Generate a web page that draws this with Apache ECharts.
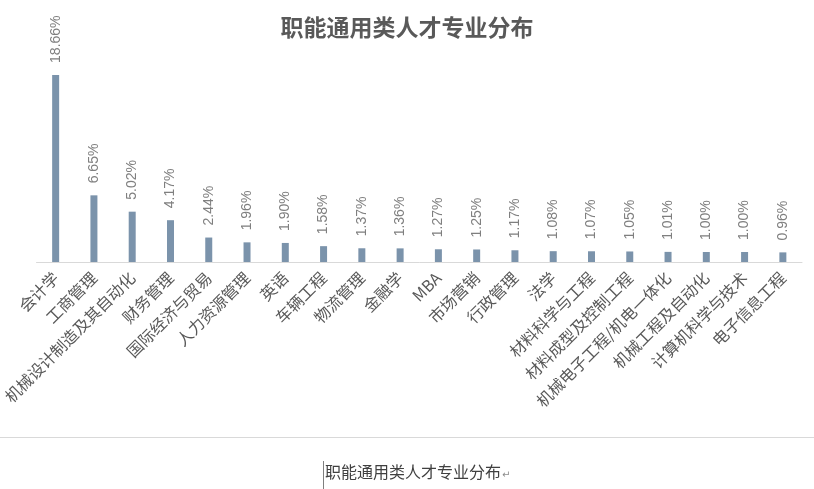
<!DOCTYPE html>
<html>
<head>
<meta charset="utf-8">
<script src="https://cdn.jsdelivr.net/npm/echarts@6/dist/echarts.min.js"></script>
<style>html,body{margin:0;padding:0;background:#fff}#c{width:814px;height:489px}</style>
</head>
<body>
<div id="c"></div>
<script>
const titleText = '职能通用类人才专业分布';
const categories = ['会计学','工商管理','机械设计制造及其自动化','财务管理','国际经济与贸易','人力资源管理','英语','车辆工程','物流管理','金融学','MBA','市场营销','行政管理','法学','材料科学与工程','材料成型及控制工程','机械电子工程/机电一体化','机械工程及自动化','计算机科学与技术','电子信息工程'];
const values = [18.66,6.65,5.02,4.17,2.44,1.96,1.90,1.58,1.37,1.36,1.27,1.25,1.17,1.08,1.07,1.05,1.01,1.00,1.00,0.96];

const chart = echarts.init(document.getElementById('c'));
chart.setOption({
  animation: false,
  title: {
    text: titleText, left: 'center', top: 11,
    textStyle: {fontFamily: 'Noto Sans CJK SC', fontSize: 23, fontWeight: 'bold', color: '#595959'}
  },
  grid: {left: 35, right: 12, top: 61.5, bottom: 227},
  xAxis: {
    type: 'category', data: categories,
    axisLine: {lineStyle: {color: '#d9d9d9'}},
    axisTick: {show: false},
    axisLabel: {rotate: 45, interval: 0, margin: 13, fontSize: 16, color: '#595959', fontFamily: 'Noto Sans CJK SC'}
  },
  yAxis: {type: 'value', min: 0, max: 20, show: false, splitLine: {show: false}},
  series: [{
    type: 'bar', data: values, barWidth: 7,
    itemStyle: {color: '#7b93ab'},
    label: {
      show: true, position: 'top', rotate: 90, align: 'left', verticalAlign: 'middle', distance: 12,
      fontSize: 14, color: '#7f7f7f', fontFamily: 'Liberation Sans',
      formatter: p => p.value.toFixed(2) + '%'
    }
  }],
  graphic: [
    {type: 'line', shape: {x1: 0, y1: 437.5, x2: 814, y2: 437.5}, style: {stroke: '#d9d9d9', lineWidth: 1}},
    {type: 'line', shape: {x1: 323.5, y1: 461, x2: 323.5, y2: 489}, style: {stroke: '#7f7f7f', lineWidth: 1}},
    {type: 'text', left: 325, top: 464, style: {text: titleText, fontSize: 16, fontFamily: 'Noto Sans CJK SC', fill: '#404040'}},
    {type: 'text', left: 502, top: 470, style: {text: '↵', fontSize: 10, fontFamily: 'DejaVu Sans', fill: '#8c8c8c'}}
  ]
});
</script>
</body>
</html>
